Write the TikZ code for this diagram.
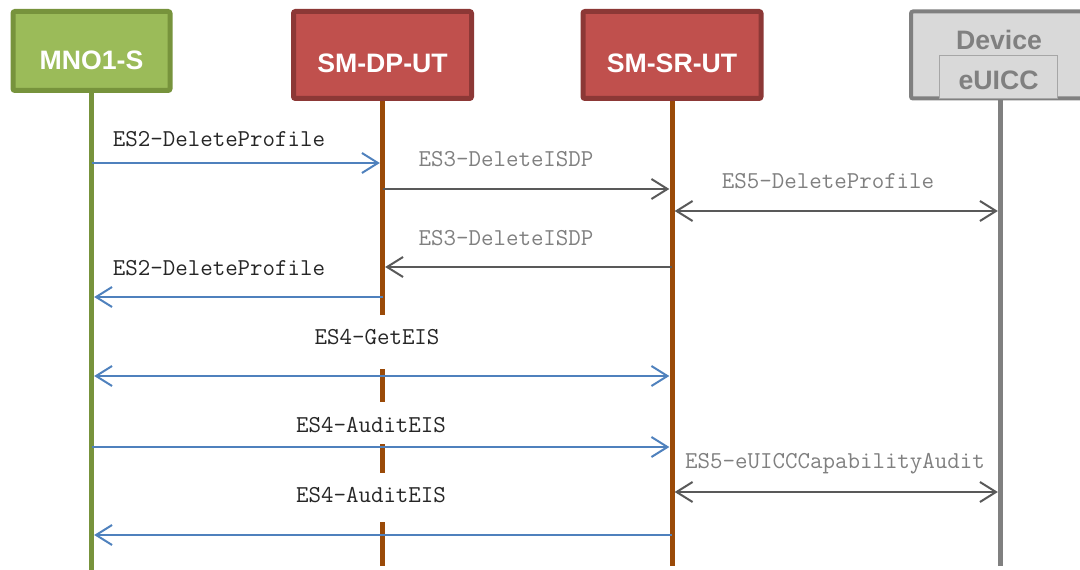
\documentclass[tikz,border=0pt]{standalone}
\usepackage{fontspec}
\setmainfont{Liberation Sans}
\usetikzlibrary{arrows.meta}
\definecolor{mnofill}{HTML}{9BBB59}
\definecolor{mnoline}{HTML}{77933C}
\definecolor{utfill}{HTML}{C0504D}
\definecolor{utline}{HTML}{8C3836}
\definecolor{utlife}{HTML}{9A4A08}
\definecolor{devfill}{HTML}{D9D9D9}
\definecolor{devline}{HTML}{808080}
\definecolor{innerline}{HTML}{A6A6A6}
\definecolor{msgblue}{HTML}{4F81BD}
\definecolor{msggray}{HTML}{595959}
\definecolor{lblgray}{HTML}{808080}
\definecolor{lbldark}{HTML}{262626}
\tikzset{
  actorbox/.style={draw, line width=3.75pt, rounded corners=1.5pt, minimum width=133.5pt, minimum height=65.25pt, inner sep=0pt},
  mnobox/.style={actorbox, fill=mnofill, draw=mnoline, minimum width=117.75pt, minimum height=59.25pt},
  utbox/.style={actorbox, fill=utfill, draw=utline},
  devbox/.style={actorbox, fill=devfill, draw=devline, line width=3pt},
  innerbox/.style={draw=innerline, fill=devfill, line width=0.75pt, minimum width=89pt, minimum height=32pt, inner sep=0pt},
  boxtext/.style={text=white, font=\fontsize{20}{24}\selectfont\bfseries, inner sep=0pt},
  devtext/.style={text=devline, font=\fontsize{20}{24}\selectfont\bfseries, inner sep=0pt},
  life/.style={line width=3.75pt},
  tipb/.style={arrows={-Straight Barb[length=12pt,width=15pt]}},
  tipbb/.style={arrows={Straight Barb[length=12pt,width=15pt]-Straight Barb[length=12pt,width=15pt]}},
  msgb/.style={draw=msgblue, line width=1.5pt, tipb},
  msgg/.style={draw=msggray, line width=1.5pt, tipb},
  lbl/.style={font=\ttfamily\fontsize{18.2}{21}\selectfont, inner sep=0pt, anchor=base},
  lbld/.style={lbl, text=lbldark},
  lblg/.style={lbl, text=lblgray},
}
\begin{document}
\begin{tikzpicture}[x=0.75pt,y=-0.75pt]
\useasboundingbox (0,0) rectangle (1080,570);
\clip (0,0) rectangle (1080,570);
% lifelines
\coordinate (mnotop) at (91.5,90);
\coordinate (mnobot) at (91.5,570);
\coordinate (dptop) at (382.5,98);
\coordinate (dpend) at (382.5,315);
\coordinate (dps1a) at (382.5,369);
\coordinate (dps1b) at (382.5,402);
\coordinate (dps2a) at (382.5,444);
\coordinate (dps2b) at (382.5,473);
\coordinate (dps3a) at (382.5,522);
\coordinate (dps3b) at (382.5,566);
\coordinate (srtop) at (672,98);
\coordinate (srbot) at (672,566);
\coordinate (devtop) at (1000.5,98);
\coordinate (devbot) at (1000.5,566);
\draw[life, draw=mnoline] (mnotop) -- (mnobot);
\draw[life, draw=utlife] (dptop) -- (dpend);
\draw[life, draw=utlife] (dps1a) -- (dps1b);
\draw[life, draw=utlife] (dps2a) -- (dps2b);
\draw[life, draw=utlife] (dps3a) -- (dps3b);
\draw[life, draw=utlife] (srtop) -- (srbot);
\draw[life, draw=devline] (devtop) -- (devbot);
% actor boxes
\node[mnobox] (mno) at (91.5,51) {};
\node[boxtext] (mnot) at (91.5,60) {MNO1-S};
\node[utbox] (dp) at (382.5,55) {};
\node[boxtext] (dpt) at (382.5,63) {SM-DP-UT};
\node[utbox] (sr) at (672,55) {};
\node[boxtext] (srt) at (672,63) {SM-SR-UT};
\node[devbox] (dev) at (1000,55) {};
\node[innerbox] (euicc) at (998.5,77) {};
\node[devtext] (devt) at (999,40) {Device};
\node[devtext] (euicct) at (998.5,80) {eUICC};
% y levels
\coordinate (y1) at (0,163);
\coordinate (y2) at (0,189);
\coordinate (y3) at (0,211);
\coordinate (y4) at (0,267);
\coordinate (y5) at (0,297);
\coordinate (y6) at (0,376);
\coordinate (y7) at (0,447);
\coordinate (y8) at (0,492);
\coordinate (y9) at (0,535);
% messages
\draw[msgb, shorten >=2pt] (mnotop |- y1) -- (dptop |- y1);
\node[lbld] (l1) at (219,147) {ES2-DeleteProfile};
\draw[msgg, shorten >=2pt] (dptop |- y2) -- (srtop |- y2);
\node[lblg] (l2) at (506,167) {ES3-DeleteISDP};
\draw[msgg, tipbb, shorten >=2pt, shorten <=2pt] (srtop |- y3) -- (devtop |- y3);
\node[lblg] (l3) at (828,189) {ES5-DeleteProfile};
\draw[msgg, shorten >=2pt] (srtop |- y4) -- (dptop |- y4);
\node[lblg] (l4) at (506,245) {ES3-DeleteISDP};
\draw[msgb, shorten >=2pt] (dptop |- y5) -- (mnotop |- y5);
\node[lbld] (l5) at (219,275) {ES2-DeleteProfile};
\draw[msgb, tipbb, shorten >=2pt, shorten <=2pt] (mnotop |- y6) -- (srtop |- y6);
\node[lbld] (l6) at (377,344) {ES4-GetEIS};
\draw[msgb, shorten >=2pt] (mnotop |- y7) -- (srtop |- y7);
\node[lbld] (l7) at (371,432) {ES4-AuditEIS};
\draw[msgg, tipbb, shorten >=2pt, shorten <=2pt] (srtop |- y8) -- (devtop |- y8);
\node[lblg] (l8) at (835,468) {ES5-eUICCCapabilityAudit};
\draw[msgb, shorten >=2pt] (srtop |- y9) -- (mnotop |- y9);
\node[lbld] (l9) at (371,502) {ES4-AuditEIS};
\end{tikzpicture}
\end{document}
